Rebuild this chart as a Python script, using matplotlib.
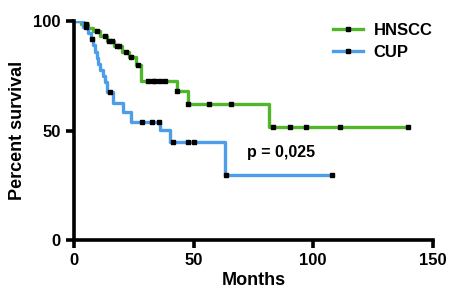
import matplotlib
matplotlib.use('Agg')
from matplotlib import pyplot as plt
from matplotlib.lines import Line2D

plt.rcParams['font.family'] = ['Liberation Sans', 'DejaVu Sans']
plt.rcParams['font.weight'] = 'bold'

##### Data #####

# HNSCC: step times (months) and survival (%)
hnsccTimes = [0, 3, 6, 8, 11, 14, 17, 20, 23, 26, 28, 43, 47.7, 81.5, 139.7]
hnsccSurv = [100, 98.5, 97, 95.5, 93, 91, 88.5, 86, 83.5, 80, 72.6, 68, 62, 51.7, 51.7]
hnsccCensT = [5, 9.5, 13, 14.5, 16, 18, 19, 22, 24, 27, 31, 33, 34, 36, 38, 43, 47.9, 56.4, 65.5, 83.3, 90.3, 97.2, 111.4, 139.7]

# CUP
cupTimes = [0, 4, 6, 7, 8, 9, 9.6, 10, 11, 12, 13, 14, 16.4, 20.6, 24.1, 35.9, 40.1, 63.2, 107.7]
cupSurv = [100, 97.2, 94.4, 91.6, 88.8, 86, 83.2, 80.4, 77.6, 74.8, 72, 67.5, 62.4, 58.6, 54.0, 50.2, 44.9, 29.7, 29.7]
cupCensT = [5, 7.5, 15, 28.3, 32.5, 35.6, 41.5, 47.5, 50.3, 63.4, 107.7]

greenCol = '#52B62A'
blueCol = '#4C9EEB'

def surv_at(times, surv, t):
	val = surv[0]
	for idx in range(len(times)):
		if times[idx] <= t:
			val = surv[idx]
	return val

fig = plt.figure(figsize=(4.5, 2.95), dpi=100)
ax = fig.add_axes([0.164, 0.186, 0.798, 0.743])

ax.plot(hnsccTimes, hnsccSurv, drawstyle='steps-post', color=greenCol, linewidth=2.4, solid_capstyle='butt')
ax.plot(cupTimes, cupSurv, drawstyle='steps-post', color=blueCol, linewidth=2.4, solid_capstyle='butt')

ax.plot(hnsccCensT, [surv_at(hnsccTimes, hnsccSurv, t) for t in hnsccCensT], linestyle='none', marker='s', markersize=3, color='black', zorder=5)
ax.plot(cupCensT, [surv_at(cupTimes, cupSurv, t) for t in cupCensT], linestyle='none', marker='s', markersize=3, color='black', zorder=5)

ax.text(72.5, 38, 'p = 0,025', fontsize=11.5, fontweight='bold')

ax.set_xlim(0, 150)
ax.set_ylim(0, 100)
ax.set_xticks([0, 50, 100, 150])
ax.set_yticks([0, 50, 100])
for side in ['top', 'right']:
	ax.spines[side].set_visible(False)
for side in ['left', 'bottom']:
	ax.spines[side].set_linewidth(2.6)
ax.tick_params(width=2.6, length=6, labelsize=12)
for lbl in ax.get_xticklabels() + ax.get_yticklabels():
	lbl.set_fontweight('bold')

ax.set_xlabel('Months', fontsize=13, fontweight='bold', labelpad=3)
ax.set_ylabel('Percent survival', fontsize=13, fontweight='bold', labelpad=5)

handles = [Line2D([0], [0], color=greenCol, linewidth=2.4, marker='s', markersize=2.5, markerfacecolor='black', markeredgecolor='black'),
	Line2D([0], [0], color=blueCol, linewidth=2.4, marker='s', markersize=2.5, markerfacecolor='black', markeredgecolor='black')]
leg = ax.legend(handles, ['HNSCC', 'CUP'], loc='upper right', bbox_to_anchor=(1.04, 1.06), frameon=False, fontsize=12, handlelength=1.8, handletextpad=0.6, labelspacing=0.45)
for t in leg.get_texts():
	t.set_fontweight('bold')

plt.savefig('out.png', dpi=100)
